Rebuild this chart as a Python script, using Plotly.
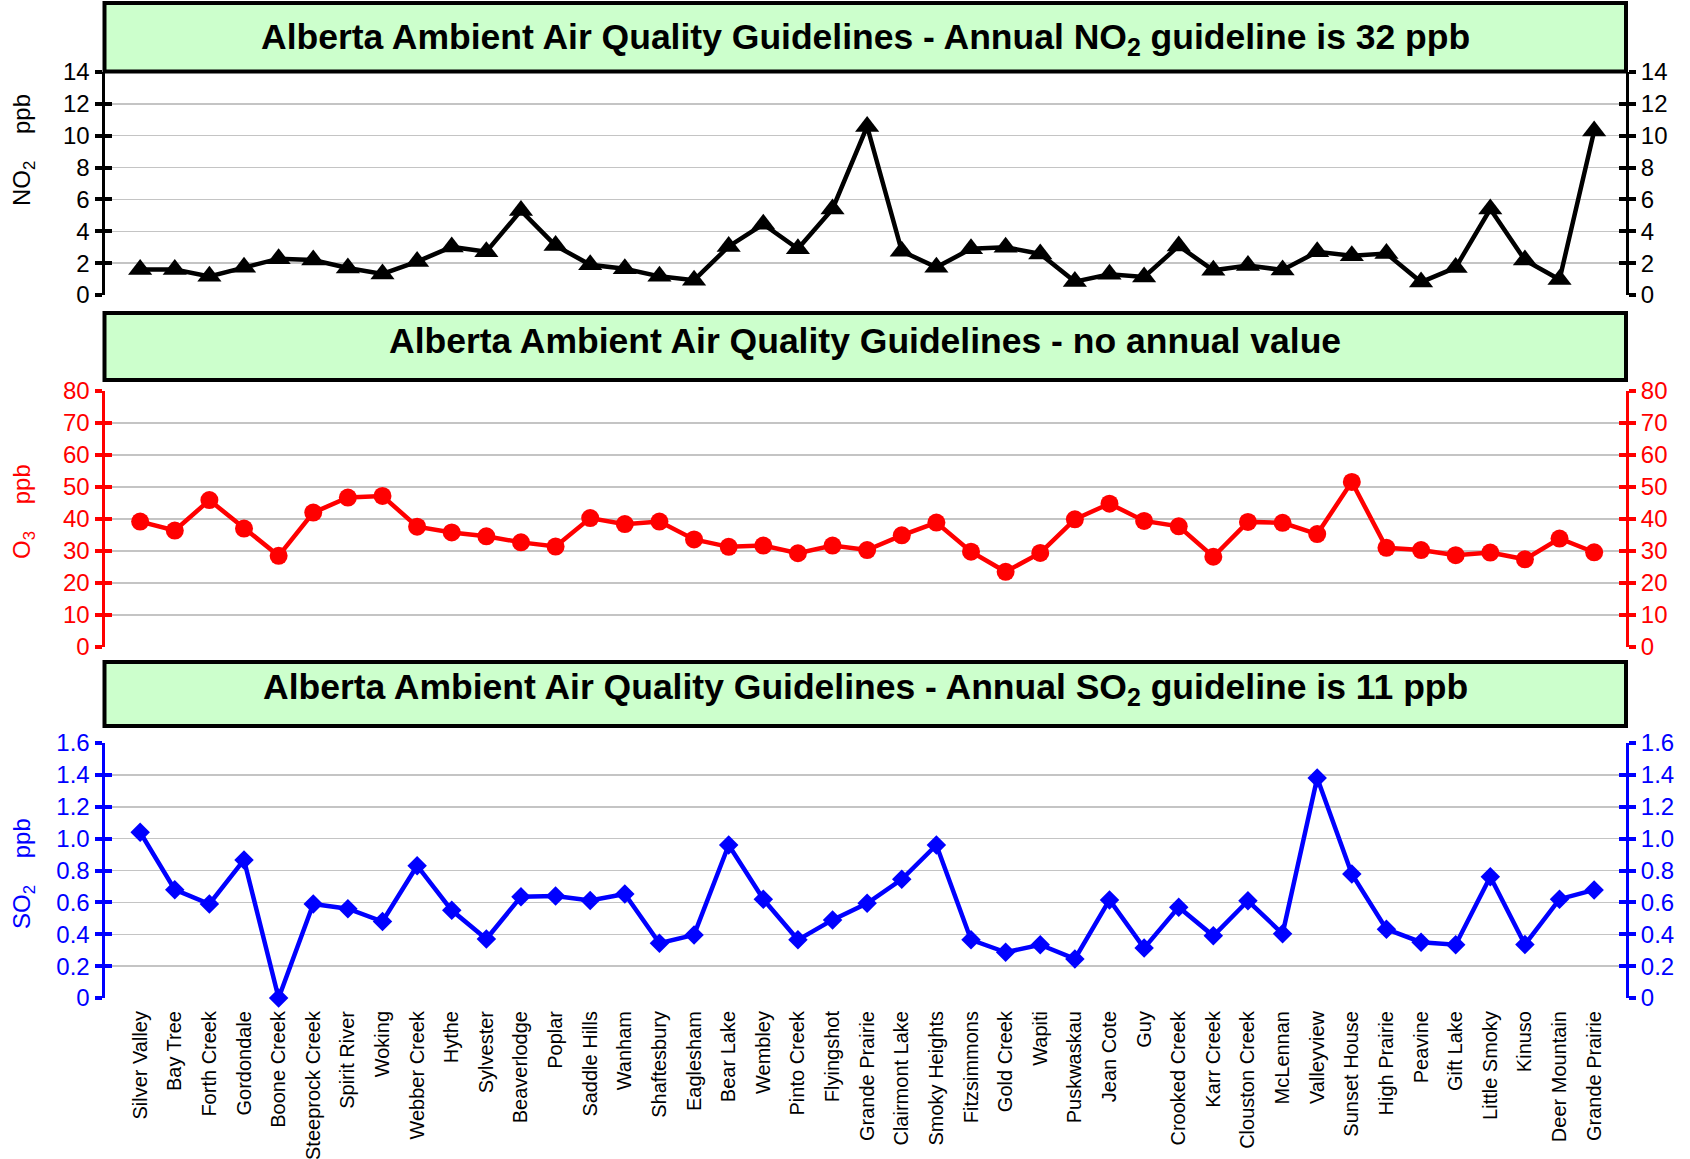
import plotly.graph_objects as go

# ---------------- data ----------------
stations = ["Silver Valley", "Bay Tree", "Forth Creek", "Gordondale", "Boone Creek",
            "Steeprock Creek", "Spirit River", "Woking", "Webber Creek", "Hythe",
            "Sylvester", "Beaverlodge", "Poplar", "Saddle Hills", "Wanham",
            "Shaftesbury", "Eaglesham", "Bear Lake", "Wembley", "Pinto Creek",
            "Flyingshot", "Grande Prairie", "Clairmont Lake", "Smoky Heights", "Fitzsimmons",
            "Gold Creek", "Wapiti", "Puskwaskau", "Jean Cote", "Guy",
            "Crooked Creek", "Karr Creek", "Clouston Creek", "McLennan", "Valleyview",
            "Sunset House", "High Prairie", "Peavine", "Gift Lake", "Little Smoky",
            "Kinuso", "Deer Mountain", "Grande Prairie"]

no2 = [1.6, 1.6, 1.17, 1.75, 2.28, 2.2, 1.7, 1.32, 2.1, 3.02,
       2.72, 5.3, 3.1, 1.9, 1.65, 1.17, 0.93, 3.05, 4.44, 2.9,
       5.4, 10.58, 2.75, 1.74, 2.9, 3.0, 2.58, 0.84, 1.3, 1.13,
       3.08, 1.55, 1.85, 1.57, 2.71, 2.47, 2.6, 0.81, 1.72, 5.4,
       2.19, 0.97, 10.3]

o3 = [39.2, 36.4, 45.9, 37.0, 28.5, 42.0, 46.7, 47.2, 37.6, 35.8,
      34.6, 32.7, 31.4, 40.3, 38.4, 39.2, 33.6, 31.3, 31.7, 29.3,
      31.7, 30.3, 34.9, 38.9, 29.8, 23.5, 29.4, 39.9, 44.8, 39.4,
      37.7, 28.2, 39.1, 38.8, 35.3, 51.6, 31.0, 30.3, 28.7, 29.5,
      27.4, 33.9, 29.6]

so2 = [1.04, 0.68, 0.59, 0.866, 0.0, 0.59, 0.56, 0.48, 0.83, 0.55,
       0.37, 0.636, 0.64, 0.612, 0.653, 0.344, 0.396, 0.96, 0.62, 0.365,
       0.49, 0.594, 0.745, 0.96, 0.365, 0.287, 0.334, 0.245, 0.615, 0.313,
       0.57, 0.39, 0.61, 0.403, 1.381, 0.778, 0.432, 0.35, 0.334, 0.761,
       0.336, 0.62, 0.678]

no2_ticks = [0, 2, 4, 6, 8, 10, 12, 14]
o3_ticks = [0, 10, 20, 30, 40, 50, 60, 70, 80]
so2_ticks = [0, 0.2, 0.4, 0.6, 0.8, 1.0, 1.2, 1.4, 1.6]
so2_ticklabels = ["0", "0.2", "0.4", "0.6", "0.8", "1.0", "1.2", "1.4", "1.6"]

titles = [
    "Alberta Ambient Air Quality Guidelines - Annual NO<sub>2</sub> guideline is 32 ppb",
    "Alberta Ambient Air Quality Guidelines - no annual value",
    "Alberta Ambient Air Quality Guidelines - Annual SO<sub>2</sub> guideline is 11 ppb",
]
ytitles = ["NO<sub>2</sub>\u00a0\u00a0\u00a0\u00a0ppb", "O<sub>3</sub>\u00a0\u00a0\u00a0\u00a0ppb",
           "SO<sub>2</sub>\u00a0\u00a0\u00a0\u00a0ppb"]

# ---------------- layout geometry (pixels) ----------------
W, H = 1690, 1159
XL, XR = 104.5, 1626.0
FONT = "Liberation Sans, Arial, sans-serif"


def fy(p):
    return 1 - p / H


def fx(p):
    return p / W


panels = [
    dict(top=72, bottom=295, box=(3, 71.5), title_y=39, ytitle_y=150,
         color="#000000", ticks=no2_ticks, labels=[str(t) for t in no2_ticks],
         rng=[0, 14], data=no2, symbol="triangle-up", msize=21),
    dict(top=391, bottom=647, box=(313, 380), title_y=341, ytitle_y=512,
         color="#FF0000", ticks=o3_ticks, labels=[str(t) for t in o3_ticks],
         rng=[0, 80], data=o3, symbol="circle", msize=18),
    dict(top=743, bottom=998, box=(662, 726), title_y=689, ytitle_y=874,
         color="#0000FF", ticks=so2_ticks, labels=so2_ticklabels,
         rng=[0, 1.6], data=so2, symbol="diamond", msize=15),
]

xs = list(range(len(stations)))
xrange_ = [-1.03, 42.92]

fig = go.Figure()
layout = dict(
    width=W, height=H, autosize=False,
    margin=dict(l=0, r=0, t=0, b=0, pad=0, autoexpand=False),
    paper_bgcolor="white", plot_bgcolor="white", showlegend=False,
    font=dict(family=FONT, size=24, color="black"),
)
shapes = []
annotations = []

for i, p in enumerate(panels):
    xid = "" if i == 0 else str(i + 1)
    base = 4 * i + 1
    yid_main = "" if base == 1 else str(base)
    dom = [fy(p["bottom"]), fy(p["top"])]
    c = p["color"]

    layout["xaxis" + xid] = dict(
        domain=[fx(XL), fx(XR)], anchor="y" + yid_main, range=xrange_,
        showgrid=False, zeroline=False, showline=False, ticks="",
        tickvals=xs, ticktext=stations, tickangle=-90, automargin=False,
        showticklabels=(i == 2), tickfont=dict(size=20, color="black", family=FONT),
        ticklabelstandoff=8, fixedrange=True,
    )
    common = dict(range=p["rng"], tickvals=p["ticks"], ticktext=p["labels"],
                  zeroline=False, fixedrange=True, tickcolor=c, tickwidth=4,
                  ticklen=7, automargin=False,
                  tickfont=dict(size=24, color=c, family=FONT))
    # main left axis
    layout["yaxis" + yid_main] = dict(
        domain=dom, anchor="x" + xid, side="left", showline=True, linecolor=c,
        linewidth=3, ticks="outside", showgrid=True, gridcolor="#C4C4C4",
        gridwidth=1.5, ticklabelstandoff=0, **common)
    # right axis with labels
    layout["yaxis" + str(base + 1)] = dict(
        overlaying="y" + yid_main, anchor="x" + xid, side="right", showline=True,
        linecolor=c, linewidth=3, ticks="outside", showgrid=False,
        ticklabelstandoff=0, **common)
    # inner tick halves
    layout["yaxis" + str(base + 2)] = dict(
        overlaying="y" + yid_main, anchor="x" + xid, side="left", showline=False,
        ticks="inside", showgrid=False, showticklabels=False, **common)
    layout["yaxis" + str(base + 3)] = dict(
        overlaying="y" + yid_main, anchor="x" + xid, side="right", showline=False,
        ticks="inside", showgrid=False, showticklabels=False, **common)

    fig.add_trace(go.Scatter(
        x=xs, y=p["data"], xaxis="x" + xid, yaxis="y" + yid_main,
        mode="lines+markers", line=dict(color=c, width=4.5),
        marker=dict(symbol=p["symbol"], size=p["msize"], color=c,
                    line=dict(width=0)),
        cliponaxis=False, hoverinfo="skip"))
    for k in (1, 2, 3):
        fig.add_trace(go.Scatter(x=[None], y=[None], xaxis="x" + xid,
                                 yaxis="y" + str(base + k), showlegend=False,
                                 hoverinfo="skip"))

    # title box
    shapes.append(dict(type="rect", xref="paper", yref="paper",
                       x0=fx(XL), x1=fx(XR), y0=fy(p["box"][1]), y1=fy(p["box"][0]),
                       fillcolor="#CCFFCC", line=dict(color="black", width=4),
                       layer="above"))
    annotations.append(dict(text="<b>" + titles[i] + "</b>", xref="paper", yref="paper",
                            x=fx((XL + XR) / 2), y=fy(p["title_y"]), xanchor="center",
                            yanchor="middle", showarrow=False,
                            font=dict(size=35.5, color="black", family=FONT)))
    annotations.append(dict(text=ytitles[i], xref="paper", yref="paper",
                            x=fx(24), y=fy(p["ytitle_y"]), xanchor="center",
                            yanchor="middle", textangle=-90, showarrow=False,
                            font=dict(size=24, color=c, family=FONT)))

layout["shapes"] = shapes
layout["annotations"] = annotations
fig.update_layout(**layout)

fig.write_html("out.html", config={"displayModeBar": False, "staticPlot": True},
               post_script="document.body.style.margin='0';document.body.style.overflow='hidden';")
